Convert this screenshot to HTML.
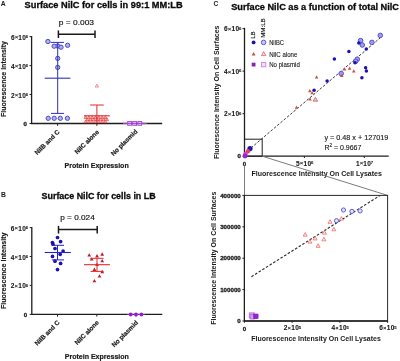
<!DOCTYPE html>
<html><head><meta charset="utf-8"><style>
html,body{margin:0;padding:0;background:#fff;}
svg{display:block;font-family:"Liberation Sans", sans-serif;will-change:transform;}
</style></head><body>
<svg width="400" height="361" viewBox="0 0 400 361" font-family='"Liberation Sans", sans-serif'>
<rect width="400" height="361" fill="#fff"/>
<text x="0.8" y="5.9" font-size="6.8" font-weight="bold" text-anchor="start" fill="#1a1a1a">A</text>
<text x="24.6" y="7.9" font-size="9.3" font-weight="bold" text-anchor="start" fill="#0a0a0a" textLength="158" lengthAdjust="spacingAndGlyphs" stroke="#0a0a0a" stroke-width="0.3">Surface NilC for cells in 99:1 MM:LB</text>
<text x="58.8" y="25.2" font-size="7.6" text-anchor="start" fill="#111" textLength="35.2" lengthAdjust="spacingAndGlyphs" stroke="#111" stroke-width="0.15">p = 0.003</text>
<line x1="58.4" y1="34.2" x2="95.0" y2="34.2" stroke="#1a1a1a" stroke-width="1.6"/>
<line x1="58.4" y1="30.4" x2="58.4" y2="38.0" stroke="#1a1a1a" stroke-width="1.5"/>
<line x1="95.0" y1="30.4" x2="95.0" y2="38.0" stroke="#1a1a1a" stroke-width="1.5"/>
<line x1="31.6" y1="36.0" x2="31.6" y2="123.5" stroke="#1e1e1e" stroke-width="1.3"/>
<line x1="31.0" y1="123.5" x2="162.2" y2="123.5" stroke="#1e1e1e" stroke-width="1.3"/>
<line x1="29.5" y1="36.6" x2="31.6" y2="36.6" stroke="#1e1e1e" stroke-width="1.0"/>
<text x="10.90" y="39.63" font-size="6.5" font-weight="bold" fill="#1a1a1a" stroke="#1a1a1a" stroke-width="0.1" textLength="15.0" lengthAdjust="spacing">6<tspan font-size="5.20" dy="-0.3">×</tspan><tspan dy="0.3">10</tspan></text>
<text x="25.80" y="38.23" font-size="4.3" font-weight="bold" fill="#1a1a1a" stroke="#1a1a1a" stroke-width="0.08">6</text>
<line x1="29.5" y1="65.6" x2="31.6" y2="65.6" stroke="#1e1e1e" stroke-width="1.0"/>
<text x="10.90" y="68.63" font-size="6.5" font-weight="bold" fill="#1a1a1a" stroke="#1a1a1a" stroke-width="0.1" textLength="15.0" lengthAdjust="spacing">4<tspan font-size="5.20" dy="-0.3">×</tspan><tspan dy="0.3">10</tspan></text>
<text x="25.80" y="67.23" font-size="4.3" font-weight="bold" fill="#1a1a1a" stroke="#1a1a1a" stroke-width="0.08">6</text>
<line x1="29.5" y1="94.5" x2="31.6" y2="94.5" stroke="#1e1e1e" stroke-width="1.0"/>
<text x="10.90" y="97.53" font-size="6.5" font-weight="bold" fill="#1a1a1a" stroke="#1a1a1a" stroke-width="0.1" textLength="15.0" lengthAdjust="spacing">2<tspan font-size="5.20" dy="-0.3">×</tspan><tspan dy="0.3">10</tspan></text>
<text x="25.80" y="96.13" font-size="4.3" font-weight="bold" fill="#1a1a1a" stroke="#1a1a1a" stroke-width="0.08">6</text>
<line x1="29.5" y1="123.5" x2="31.6" y2="123.5" stroke="#1e1e1e" stroke-width="1.0"/>
<text x="27.0" y="125.68" font-size="6.1" font-weight="bold" text-anchor="end" fill="#1a1a1a" stroke="#1a1a1a" stroke-width="0.3">0</text>
<line x1="57.6" y1="123.5" x2="57.6" y2="125.8" stroke="#1e1e1e" stroke-width="1.0"/>
<line x1="96.9" y1="123.5" x2="96.9" y2="125.8" stroke="#1e1e1e" stroke-width="1.0"/>
<line x1="136.2" y1="123.5" x2="136.2" y2="125.8" stroke="#1e1e1e" stroke-width="1.0"/>
<text x="6.4" y="79.0" font-size="7.0" font-weight="bold" text-anchor="middle" fill="#1a1a1a" textLength="76" lengthAdjust="spacingAndGlyphs" transform="rotate(-90 6.4 79.0)" stroke="#1a1a1a" stroke-width="0.15">Fluorescence Intensity</text>
<text x="60.1" y="132.5" font-size="6.4" font-weight="bold" text-anchor="end" fill="#1a1a1a" transform="rotate(-45 60.1 132.5)" stroke="#1a1a1a" stroke-width="0.2">NilB and C</text>
<text x="99.4" y="132.5" font-size="6.4" font-weight="bold" text-anchor="end" fill="#1a1a1a" transform="rotate(-45 99.4 132.5)" stroke="#1a1a1a" stroke-width="0.2">NilC alone</text>
<text x="137.9" y="132.0" font-size="6.4" font-weight="bold" text-anchor="end" fill="#1a1a1a" transform="rotate(-45 137.9 132.0)" stroke="#1a1a1a" stroke-width="0.2">No plasmid</text>
<text x="64.5" y="167.8" font-size="7.3" font-weight="bold" text-anchor="start" fill="#1a1a1a" textLength="64.2" lengthAdjust="spacingAndGlyphs" stroke="#1a1a1a" stroke-width="0.2">Protein Expression</text>
<circle cx="57.7" cy="46.0" r="2.15" fill="#b0b0ee" stroke="#4c4cc8" stroke-width="1.0"/>
<circle cx="47.9" cy="41.5" r="2.15" fill="#b0b0ee" stroke="#4c4cc8" stroke-width="1.0"/>
<circle cx="54.1" cy="46.2" r="2.15" fill="#b0b0ee" stroke="#4c4cc8" stroke-width="1.0"/>
<circle cx="61.0" cy="47.2" r="2.15" fill="#b0b0ee" stroke="#4c4cc8" stroke-width="1.0"/>
<circle cx="67.6" cy="45.3" r="2.15" fill="#b0b0ee" stroke="#4c4cc8" stroke-width="1.0"/>
<circle cx="57.7" cy="58.4" r="2.15" fill="#b0b0ee" stroke="#4c4cc8" stroke-width="1.0"/>
<circle cx="57.7" cy="67.4" r="2.15" fill="#b0b0ee" stroke="#4c4cc8" stroke-width="1.0"/>
<circle cx="48.2" cy="118.3" r="2.15" fill="#b0b0ee" stroke="#4c4cc8" stroke-width="1.0"/>
<circle cx="54.2" cy="118.3" r="2.15" fill="#b0b0ee" stroke="#4c4cc8" stroke-width="1.0"/>
<circle cx="60.3" cy="118.3" r="2.15" fill="#b0b0ee" stroke="#4c4cc8" stroke-width="1.0"/>
<circle cx="67.4" cy="118.3" r="2.15" fill="#b0b0ee" stroke="#4c4cc8" stroke-width="1.0"/>
<line x1="57.7" y1="42.4" x2="57.7" y2="113.4" stroke="#3030bc" stroke-width="1.0"/>
<line x1="50.6" y1="42.4" x2="64.0" y2="42.4" stroke="#3030bc" stroke-width="1.0"/>
<line x1="51.0" y1="113.4" x2="64.0" y2="113.4" stroke="#3030bc" stroke-width="1.0"/>
<line x1="44.7" y1="78.2" x2="70.4" y2="78.2" stroke="#3030bc" stroke-width="1.1"/>
<polygon points="96.9,84.06400000000001 95.2,87.12400000000001 98.60000000000001,87.12400000000001" fill="#fde8e8" stroke="#e87070" stroke-width="0.7"/>
<polygon points="85.6,115.726 84.05,118.516 87.14999999999999,118.516" fill="#f7b8b8" stroke="#e03030" stroke-width="0.6"/>
<polygon points="88.89999999999999,115.726 87.35,118.516 90.44999999999999,118.516" fill="#f7b8b8" stroke="#e03030" stroke-width="0.6"/>
<polygon points="92.19999999999999,115.726 90.64999999999999,118.516 93.74999999999999,118.516" fill="#f7b8b8" stroke="#e03030" stroke-width="0.6"/>
<polygon points="95.5,115.726 93.95,118.516 97.05,118.516" fill="#f7b8b8" stroke="#e03030" stroke-width="0.6"/>
<polygon points="98.8,115.726 97.25,118.516 100.35,118.516" fill="#f7b8b8" stroke="#e03030" stroke-width="0.6"/>
<polygon points="102.1,115.726 100.55,118.516 103.64999999999999,118.516" fill="#f7b8b8" stroke="#e03030" stroke-width="0.6"/>
<polygon points="105.39999999999999,115.726 103.85,118.516 106.94999999999999,118.516" fill="#f7b8b8" stroke="#e03030" stroke-width="0.6"/>
<polygon points="87.19999999999999,117.826 85.64999999999999,120.616 88.74999999999999,120.616" fill="#f7b8b8" stroke="#e03030" stroke-width="0.6"/>
<polygon points="90.49999999999999,117.826 88.94999999999999,120.616 92.04999999999998,120.616" fill="#f7b8b8" stroke="#e03030" stroke-width="0.6"/>
<polygon points="93.79999999999998,117.826 92.24999999999999,120.616 95.34999999999998,120.616" fill="#f7b8b8" stroke="#e03030" stroke-width="0.6"/>
<polygon points="97.1,117.826 95.55,120.616 98.64999999999999,120.616" fill="#f7b8b8" stroke="#e03030" stroke-width="0.6"/>
<polygon points="100.39999999999999,117.826 98.85,120.616 101.94999999999999,120.616" fill="#f7b8b8" stroke="#e03030" stroke-width="0.6"/>
<polygon points="103.69999999999999,117.826 102.14999999999999,120.616 105.24999999999999,120.616" fill="#f7b8b8" stroke="#e03030" stroke-width="0.6"/>
<polygon points="106.99999999999999,117.826 105.44999999999999,120.616 108.54999999999998,120.616" fill="#f7b8b8" stroke="#e03030" stroke-width="0.6"/>
<polygon points="85.6,119.92599999999999 84.05,122.716 87.14999999999999,122.716" fill="#f7b8b8" stroke="#e03030" stroke-width="0.6"/>
<polygon points="88.89999999999999,119.92599999999999 87.35,122.716 90.44999999999999,122.716" fill="#f7b8b8" stroke="#e03030" stroke-width="0.6"/>
<polygon points="92.19999999999999,119.92599999999999 90.64999999999999,122.716 93.74999999999999,122.716" fill="#f7b8b8" stroke="#e03030" stroke-width="0.6"/>
<polygon points="95.5,119.92599999999999 93.95,122.716 97.05,122.716" fill="#f7b8b8" stroke="#e03030" stroke-width="0.6"/>
<polygon points="98.8,119.92599999999999 97.25,122.716 100.35,122.716" fill="#f7b8b8" stroke="#e03030" stroke-width="0.6"/>
<polygon points="102.1,119.92599999999999 100.55,122.716 103.64999999999999,122.716" fill="#f7b8b8" stroke="#e03030" stroke-width="0.6"/>
<polygon points="105.39999999999999,119.92599999999999 103.85,122.716 106.94999999999999,122.716" fill="#f7b8b8" stroke="#e03030" stroke-width="0.6"/>
<line x1="96.9" y1="105.0" x2="96.9" y2="122.5" stroke="#e42828" stroke-width="1.0"/>
<line x1="90.2" y1="105.0" x2="103.7" y2="105.0" stroke="#e42828" stroke-width="1.0"/>
<line x1="84.0" y1="115.8" x2="109.8" y2="115.8" stroke="#e42828" stroke-width="1.1"/>
<rect x="127.69999999999999" y="121.5" width="3.8" height="3.8" fill="#e2c4f2" stroke="#a444d6" stroke-width="0.9"/>
<rect x="132.7" y="121.5" width="3.8" height="3.8" fill="#e2c4f2" stroke="#a444d6" stroke-width="0.9"/>
<rect x="137.9" y="121.5" width="3.8" height="3.8" fill="#e2c4f2" stroke="#a444d6" stroke-width="0.9"/>
<line x1="123.0" y1="123.4" x2="147.0" y2="123.4" stroke="#a444d6" stroke-width="1.0"/>
<text x="0.9" y="196.9" font-size="6.8" font-weight="bold" text-anchor="start" fill="#1a1a1a">B</text>
<text x="41.6" y="199.4" font-size="9.3" font-weight="bold" text-anchor="start" fill="#0a0a0a" textLength="114" lengthAdjust="spacingAndGlyphs" stroke="#0a0a0a" stroke-width="0.3">Surface NilC for cells in LB</text>
<text x="60.2" y="220.4" font-size="7.6" text-anchor="start" fill="#111" textLength="34.6" lengthAdjust="spacingAndGlyphs" stroke="#111" stroke-width="0.15">p = 0.024</text>
<line x1="58.5" y1="229.5" x2="97.2" y2="229.5" stroke="#1a1a1a" stroke-width="1.6"/>
<line x1="58.5" y1="225.9" x2="58.5" y2="233.6" stroke="#1a1a1a" stroke-width="1.5"/>
<line x1="97.2" y1="225.9" x2="97.2" y2="233.6" stroke="#1a1a1a" stroke-width="1.5"/>
<line x1="31.8" y1="227.0" x2="31.8" y2="314.4" stroke="#1e1e1e" stroke-width="1.3"/>
<line x1="31.2" y1="314.4" x2="162.3" y2="314.4" stroke="#1e1e1e" stroke-width="1.3"/>
<line x1="29.7" y1="227.6" x2="31.8" y2="227.6" stroke="#1e1e1e" stroke-width="1.0"/>
<text x="10.80" y="230.63" font-size="6.5" font-weight="bold" fill="#1a1a1a" stroke="#1a1a1a" stroke-width="0.1" textLength="15.0" lengthAdjust="spacing">6<tspan font-size="5.20" dy="-0.3">×</tspan><tspan dy="0.3">10</tspan></text>
<text x="25.70" y="229.23" font-size="4.3" font-weight="bold" fill="#1a1a1a" stroke="#1a1a1a" stroke-width="0.08">6</text>
<line x1="29.7" y1="256.5" x2="31.8" y2="256.5" stroke="#1e1e1e" stroke-width="1.0"/>
<text x="10.80" y="259.53" font-size="6.5" font-weight="bold" fill="#1a1a1a" stroke="#1a1a1a" stroke-width="0.1" textLength="15.0" lengthAdjust="spacing">4<tspan font-size="5.20" dy="-0.3">×</tspan><tspan dy="0.3">10</tspan></text>
<text x="25.70" y="258.13" font-size="4.3" font-weight="bold" fill="#1a1a1a" stroke="#1a1a1a" stroke-width="0.08">6</text>
<line x1="29.7" y1="285.4" x2="31.8" y2="285.4" stroke="#1e1e1e" stroke-width="1.0"/>
<text x="10.80" y="288.43" font-size="6.5" font-weight="bold" fill="#1a1a1a" stroke="#1a1a1a" stroke-width="0.1" textLength="15.0" lengthAdjust="spacing">2<tspan font-size="5.20" dy="-0.3">×</tspan><tspan dy="0.3">10</tspan></text>
<text x="25.70" y="287.03" font-size="4.3" font-weight="bold" fill="#1a1a1a" stroke="#1a1a1a" stroke-width="0.08">6</text>
<line x1="29.7" y1="314.4" x2="31.8" y2="314.4" stroke="#1e1e1e" stroke-width="1.0"/>
<text x="27.2" y="316.58" font-size="6.1" font-weight="bold" text-anchor="end" fill="#1a1a1a" stroke="#1a1a1a" stroke-width="0.3">0</text>
<line x1="57.5" y1="314.4" x2="57.5" y2="316.6" stroke="#1e1e1e" stroke-width="1.0"/>
<line x1="96.8" y1="314.4" x2="96.8" y2="316.6" stroke="#1e1e1e" stroke-width="1.0"/>
<line x1="136.0" y1="314.4" x2="136.0" y2="316.6" stroke="#1e1e1e" stroke-width="1.0"/>
<text x="6.4" y="270.8" font-size="7.0" font-weight="bold" text-anchor="middle" fill="#1a1a1a" textLength="76.5" lengthAdjust="spacingAndGlyphs" transform="rotate(-90 6.4 270.8)" stroke="#1a1a1a" stroke-width="0.15">Fluorescence Intensity</text>
<text x="60.0" y="323.1" font-size="6.4" font-weight="bold" text-anchor="end" fill="#1a1a1a" transform="rotate(-45 60.0 323.1)" stroke="#1a1a1a" stroke-width="0.2">NilB and C</text>
<text x="99.3" y="323.1" font-size="6.4" font-weight="bold" text-anchor="end" fill="#1a1a1a" transform="rotate(-45 99.3 323.1)" stroke="#1a1a1a" stroke-width="0.2">NilC alone</text>
<text x="138.5" y="323.1" font-size="6.4" font-weight="bold" text-anchor="end" fill="#1a1a1a" transform="rotate(-45 138.5 323.1)" stroke="#1a1a1a" stroke-width="0.2">No plasmid</text>
<text x="64.7" y="358.7" font-size="7.3" font-weight="bold" text-anchor="start" fill="#1a1a1a" textLength="64.2" lengthAdjust="spacingAndGlyphs" stroke="#1a1a1a" stroke-width="0.2">Protein Expression</text>
<circle cx="57.5" cy="237.5" r="1.85" fill="#1c12b4" stroke="none" stroke-width="0.8"/>
<circle cx="60.6" cy="241.6" r="1.85" fill="#1c12b4" stroke="none" stroke-width="0.8"/>
<circle cx="52.4" cy="242.5" r="1.85" fill="#1c12b4" stroke="none" stroke-width="0.8"/>
<circle cx="53.0" cy="244.2" r="1.85" fill="#1c12b4" stroke="none" stroke-width="0.8"/>
<circle cx="55.0" cy="248.5" r="1.85" fill="#1c12b4" stroke="none" stroke-width="0.8"/>
<circle cx="63.1" cy="251.0" r="1.85" fill="#1c12b4" stroke="none" stroke-width="0.8"/>
<circle cx="60.2" cy="254.3" r="1.85" fill="#1c12b4" stroke="none" stroke-width="0.8"/>
<circle cx="52.5" cy="256.4" r="1.85" fill="#1c12b4" stroke="none" stroke-width="0.8"/>
<circle cx="55.0" cy="261.2" r="1.85" fill="#1c12b4" stroke="none" stroke-width="0.8"/>
<circle cx="60.6" cy="263.4" r="1.85" fill="#1c12b4" stroke="none" stroke-width="0.8"/>
<circle cx="57.5" cy="269.6" r="1.85" fill="#1c12b4" stroke="none" stroke-width="0.8"/>
<line x1="57.5" y1="245.3" x2="57.5" y2="259.9" stroke="#2424c8" stroke-width="1.0"/>
<line x1="51.9" y1="245.3" x2="64.0" y2="245.3" stroke="#2424c8" stroke-width="1.0"/>
<line x1="51.9" y1="259.9" x2="64.0" y2="259.9" stroke="#2424c8" stroke-width="1.0"/>
<line x1="44.7" y1="252.5" x2="70.8" y2="252.5" stroke="#2424c8" stroke-width="1.1"/>
<polygon points="89.2,253.148 87.3,256.568 91.10000000000001,256.568" fill="#bc1c2a" stroke="none" stroke-width="0.8"/>
<polygon points="97.0,254.04800000000003 95.1,257.468 98.9,257.468" fill="#bc1c2a" stroke="none" stroke-width="0.8"/>
<polygon points="102.2,252.348 100.3,255.768 104.10000000000001,255.768" fill="#bc1c2a" stroke="none" stroke-width="0.8"/>
<polygon points="91.7,257.14799999999997 89.8,260.568 93.60000000000001,260.568" fill="#bc1c2a" stroke="none" stroke-width="0.8"/>
<polygon points="102.2,258.948 100.3,262.368 104.10000000000001,262.368" fill="#bc1c2a" stroke="none" stroke-width="0.8"/>
<polygon points="97.0,262.64799999999997 95.1,266.068 98.9,266.068" fill="#bc1c2a" stroke="none" stroke-width="0.8"/>
<polygon points="94.4,267.548 92.5,270.968 96.30000000000001,270.968" fill="#bc1c2a" stroke="none" stroke-width="0.8"/>
<polygon points="102.2,269.748 100.3,273.168 104.10000000000001,273.168" fill="#bc1c2a" stroke="none" stroke-width="0.8"/>
<polygon points="99.5,274.14799999999997 97.6,277.568 101.4,277.568" fill="#bc1c2a" stroke="none" stroke-width="0.8"/>
<polygon points="94.4,278.948 92.5,282.368 96.30000000000001,282.368" fill="#bc1c2a" stroke="none" stroke-width="0.8"/>
<line x1="97.0" y1="258.3" x2="97.0" y2="271.4" stroke="#e42828" stroke-width="1.0"/>
<line x1="90.3" y1="258.3" x2="103.6" y2="258.3" stroke="#e42828" stroke-width="1.0"/>
<line x1="90.6" y1="271.4" x2="103.6" y2="271.4" stroke="#e42828" stroke-width="1.0"/>
<line x1="84.0" y1="264.7" x2="109.9" y2="264.7" stroke="#e42828" stroke-width="1.1"/>
<circle cx="130.7" cy="314.5" r="1.9" fill="#9020c8" stroke="none" stroke-width="0.8"/>
<circle cx="136.0" cy="314.5" r="1.9" fill="#9020c8" stroke="none" stroke-width="0.8"/>
<circle cx="141.4" cy="314.5" r="1.9" fill="#9020c8" stroke="none" stroke-width="0.8"/>
<line x1="127.0" y1="314.5" x2="145.0" y2="314.5" stroke="#9020c8" stroke-width="1.0"/>
<text x="213.5" y="6.0" font-size="6.6" font-weight="bold" text-anchor="start" fill="#1a1a1a">C</text>
<text x="231.2" y="9.7" font-size="9.3" font-weight="bold" text-anchor="start" fill="#0a0a0a" textLength="167.8" lengthAdjust="spacingAndGlyphs" stroke="#0a0a0a" stroke-width="0.3">Surface NilC as a function of total NilC</text>
<line x1="244.5" y1="27.8" x2="244.5" y2="156.2" stroke="#1e1e1e" stroke-width="1.3"/>
<line x1="244.0" y1="156.2" x2="388.7" y2="156.2" stroke="#1e1e1e" stroke-width="1.3"/>
<line x1="242.5" y1="28.60000000000001" x2="244.5" y2="28.60000000000001" stroke="#1e1e1e" stroke-width="1.0"/>
<text x="224.00" y="31.33" font-size="6.5" font-weight="bold" fill="#1a1a1a" stroke="#1a1a1a" stroke-width="0.1" textLength="15.0" lengthAdjust="spacing">6<tspan font-size="5.20" dy="-0.3">×</tspan><tspan dy="0.3">10</tspan></text>
<text x="238.90" y="29.93" font-size="4.3" font-weight="bold" fill="#1a1a1a" stroke="#1a1a1a" stroke-width="0.08">6</text>
<line x1="242.5" y1="71.13333333333333" x2="244.5" y2="71.13333333333333" stroke="#1e1e1e" stroke-width="1.0"/>
<text x="224.00" y="73.86" font-size="6.5" font-weight="bold" fill="#1a1a1a" stroke="#1a1a1a" stroke-width="0.1" textLength="15.0" lengthAdjust="spacing">4<tspan font-size="5.20" dy="-0.3">×</tspan><tspan dy="0.3">10</tspan></text>
<text x="238.90" y="72.46" font-size="4.3" font-weight="bold" fill="#1a1a1a" stroke="#1a1a1a" stroke-width="0.08">6</text>
<line x1="242.5" y1="113.66666666666666" x2="244.5" y2="113.66666666666666" stroke="#1e1e1e" stroke-width="1.0"/>
<text x="224.00" y="116.39" font-size="6.5" font-weight="bold" fill="#1a1a1a" stroke="#1a1a1a" stroke-width="0.1" textLength="15.0" lengthAdjust="spacing">2<tspan font-size="5.20" dy="-0.3">×</tspan><tspan dy="0.3">10</tspan></text>
<text x="238.90" y="114.99" font-size="4.3" font-weight="bold" fill="#1a1a1a" stroke="#1a1a1a" stroke-width="0.08">6</text>
<line x1="242.5" y1="156.2" x2="244.5" y2="156.2" stroke="#1e1e1e" stroke-width="1.0"/>
<text x="241.0" y="158.38" font-size="6.1" font-weight="bold" text-anchor="end" fill="#1a1a1a" stroke="#1a1a1a" stroke-width="0.3">0</text>
<line x1="244.5" y1="156.2" x2="244.5" y2="158.0" stroke="#1e1e1e" stroke-width="1.0"/>
<text x="244.5" y="165.78" font-size="6.1" font-weight="bold" text-anchor="middle" fill="#1a1a1a" stroke="#1a1a1a" stroke-width="0.3">0</text>
<line x1="304.4" y1="156.2" x2="304.4" y2="158.0" stroke="#1e1e1e" stroke-width="1.0"/>
<text x="296.05" y="165.63" font-size="6.5" font-weight="bold" fill="#1a1a1a" stroke="#1a1a1a" stroke-width="0.1" textLength="15.0" lengthAdjust="spacing">5<tspan font-size="5.20" dy="-0.3">×</tspan><tspan dy="0.3">10</tspan></text>
<text x="310.95" y="164.23" font-size="4.3" font-weight="bold" fill="#1a1a1a" stroke="#1a1a1a" stroke-width="0.08">6</text>
<line x1="364.3" y1="156.2" x2="364.3" y2="158.0" stroke="#1e1e1e" stroke-width="1.0"/>
<text x="355.95" y="165.63" font-size="6.5" font-weight="bold" fill="#1a1a1a" stroke="#1a1a1a" stroke-width="0.1" textLength="15.0" lengthAdjust="spacing">1<tspan font-size="5.20" dy="-0.3">×</tspan><tspan dy="0.3">10</tspan></text>
<text x="370.85" y="164.23" font-size="4.3" font-weight="bold" fill="#1a1a1a" stroke="#1a1a1a" stroke-width="0.08">7</text>
<text x="218.9" y="92.3" font-size="7.0" font-weight="bold" text-anchor="middle" fill="#1a1a1a" textLength="133.5" lengthAdjust="spacingAndGlyphs" transform="rotate(-90 218.9 92.3)">Fluorescence Intensity On Cell Surfaces</text>
<text x="251.5" y="176.2" font-size="7.0" font-weight="bold" text-anchor="start" fill="#1a1a1a" textLength="130.4" lengthAdjust="spacingAndGlyphs">Fluorescence Intensity On Cell Lysates</text>
<text x="255.1" y="38.4" font-size="5.6" text-anchor="start" fill="#222" textLength="6.8" lengthAdjust="spacingAndGlyphs" transform="rotate(-90 255.1 38.4)" stroke="#222" stroke-width="0.2">LB</text>
<text x="265.0" y="37.8" font-size="5.6" text-anchor="start" fill="#222" textLength="19.5" lengthAdjust="spacingAndGlyphs" transform="rotate(-90 265.0 37.8)" stroke="#222" stroke-width="0.2">MM:LB</text>
<circle cx="253.6" cy="42.4" r="1.95" fill="#1c12b4" stroke="none" stroke-width="0.8"/>
<circle cx="263.6" cy="42.4" r="2.3" fill="#c4c4f2" stroke="#5a5ad8" stroke-width="1.0"/>
<text x="269.2" y="44.9" font-size="7.0" text-anchor="start" fill="#1c1c1c" textLength="14.8" lengthAdjust="spacingAndGlyphs" stroke="#1c1c1c" stroke-width="0.12">NilBC</text>
<polygon points="253.6,51.894 251.65,55.403999999999996 255.54999999999998,55.403999999999996" fill="#c84848" stroke="none" stroke-width="0.8"/>
<polygon points="263.6,51.624 261.40000000000003,55.584 265.8,55.584" fill="#fde0e0" stroke="#e07070" stroke-width="0.9"/>
<text x="269.2" y="56.7" font-size="7.0" text-anchor="start" fill="#1c1c1c" textLength="28.2" lengthAdjust="spacingAndGlyphs" stroke="#1c1c1c" stroke-width="0.12">NilC alone</text>
<rect x="251.7" y="62.699999999999996" width="3.8" height="3.8" fill="#8a20c0" stroke="none" stroke-width="0.8"/>
<rect x="261.40000000000003" y="62.39999999999999" width="4.4" height="4.4" fill="#f4dcf8" stroke="#d080e8" stroke-width="0.9"/>
<text x="269.2" y="67.1" font-size="7.0" text-anchor="start" fill="#1c1c1c" textLength="30.6" lengthAdjust="spacingAndGlyphs" stroke="#1c1c1c" stroke-width="0.12">No plasmid</text>
<line x1="244.5" y1="153.50" x2="382" y2="36.34" stroke="#3a3a3a" stroke-width="1.0" stroke-dasharray="2.6 1.7"/>
<text x="324.4" y="139.9" font-size="7.0" text-anchor="start" fill="#151515" textLength="63.9" lengthAdjust="spacingAndGlyphs" stroke="#151515" stroke-width="0.12">y = 0.48 x + 127019</text>
<text x="324.4" y="149.5" font-size="7" fill="#151515" stroke="#151515" stroke-width="0.12">R<tspan font-size="4.6" dy="-2.6">2</tspan><tspan dy="2.6"> = 0.9667</tspan></text>
<rect x="244.5" y="139.2" width="17.69999999999999" height="17.0" fill="none" stroke="#1e1e1e" stroke-width="1"/>
<circle cx="380.3" cy="35.4" r="2.3" fill="#9c9cea" stroke="#4a4ad0" stroke-width="0.9"/>
<circle cx="371.9" cy="42.4" r="2.3" fill="#9c9cea" stroke="#4a4ad0" stroke-width="0.9"/>
<circle cx="360.6" cy="40.6" r="2.3" fill="#9c9cea" stroke="#4a4ad0" stroke-width="0.9"/>
<circle cx="362.3" cy="45.0" r="2.3" fill="#9c9cea" stroke="#4a4ad0" stroke-width="0.9"/>
<circle cx="357.3" cy="59.2" r="2.3" fill="#9c9cea" stroke="#4a4ad0" stroke-width="0.9"/>
<circle cx="355.6" cy="61.3" r="2.3" fill="#9c9cea" stroke="#4a4ad0" stroke-width="0.9"/>
<circle cx="341.2" cy="73.6" r="2.3" fill="#9c9cea" stroke="#4a4ad0" stroke-width="0.9"/>
<circle cx="358.8" cy="43.1" r="1.75" fill="#1c12b4" stroke="none" stroke-width="0.8"/>
<circle cx="366.3" cy="49.0" r="1.75" fill="#1c12b4" stroke="none" stroke-width="0.8"/>
<circle cx="348.9" cy="51.4" r="1.75" fill="#1c12b4" stroke="none" stroke-width="0.8"/>
<circle cx="334.4" cy="58.9" r="1.75" fill="#1c12b4" stroke="none" stroke-width="0.8"/>
<circle cx="355.0" cy="62.8" r="1.75" fill="#1c12b4" stroke="none" stroke-width="0.8"/>
<circle cx="365.6" cy="67.8" r="1.75" fill="#1c12b4" stroke="none" stroke-width="0.8"/>
<circle cx="366.4" cy="70.9" r="1.75" fill="#1c12b4" stroke="none" stroke-width="0.8"/>
<circle cx="361.9" cy="77.7" r="1.75" fill="#1c12b4" stroke="none" stroke-width="0.8"/>
<circle cx="327.1" cy="81.0" r="1.75" fill="#1c12b4" stroke="none" stroke-width="0.8"/>
<circle cx="314.1" cy="90.2" r="1.75" fill="#1c12b4" stroke="none" stroke-width="0.8"/>
<polygon points="344.6,67.256 342.8,70.49600000000001 346.40000000000003,70.49600000000001" fill="#c85248" stroke="none" stroke-width="0.8"/>
<polygon points="349.6,66.556 347.8,69.796 351.40000000000003,69.796" fill="#c85248" stroke="none" stroke-width="0.8"/>
<polygon points="353.8,69.256 352.0,72.49600000000001 355.6,72.49600000000001" fill="#c85248" stroke="none" stroke-width="0.8"/>
<polygon points="341.8,73.65599999999999 340.0,76.896 343.6,76.896" fill="#c85248" stroke="none" stroke-width="0.8"/>
<polygon points="316.6,75.356 314.8,78.596 318.40000000000003,78.596" fill="#c85248" stroke="none" stroke-width="0.8"/>
<polygon points="309.8,88.956 308.0,92.19600000000001 311.6,92.19600000000001" fill="#c85248" stroke="none" stroke-width="0.8"/>
<polygon points="312.1,91.056 310.3,94.296 313.90000000000003,94.296" fill="#c85248" stroke="none" stroke-width="0.8"/>
<polygon points="310.0,97.15599999999999 308.2,100.396 311.8,100.396" fill="#c85248" stroke="none" stroke-width="0.8"/>
<polygon points="296.5,105.556 294.7,108.796 298.3,108.796" fill="#c85248" stroke="none" stroke-width="0.8"/>
<polygon points="315.4,97.22399999999999 313.2,101.184 317.59999999999997,101.184" fill="#f4c4c4" stroke="#d46a6a" stroke-width="0.9"/>
<circle cx="250.0" cy="148.6" r="2.6" fill="#1c12b4" stroke="none" stroke-width="0.8"/>
<circle cx="248.0" cy="151.2" r="2.2" fill="#e04060" stroke="none" stroke-width="0.8"/>
<circle cx="245.6" cy="154.0" r="2.2" fill="#d040d8" stroke="none" stroke-width="0.8"/>
<circle cx="245.0" cy="156.0" r="2.4" fill="#a020d8" stroke="none" stroke-width="0.8"/>
<line x1="244.5" y1="165.5" x2="244.5" y2="195.4" stroke="#7c7c7c" stroke-width="1.0"/>
<line x1="262.2" y1="156.2" x2="387.6" y2="195.4" stroke="#7c7c7c" stroke-width="1.0"/>
<rect x="244.4" y="195.4" width="143.20000000000002" height="125.6" fill="none" stroke="#2a2a2a" stroke-width="1.0"/>
<line x1="244.4" y1="321.0" x2="387.6" y2="321.0" stroke="#1e1e1e" stroke-width="1.3"/>
<line x1="244.4" y1="195.4" x2="244.4" y2="321.0" stroke="#1e1e1e" stroke-width="1.2"/>
<line x1="242.4" y1="195.4" x2="244.4" y2="195.4" stroke="#1e1e1e" stroke-width="1.0"/>
<text x="240.8" y="197.62" font-size="6.2" font-weight="bold" text-anchor="end" fill="#1a1a1a" stroke="#1a1a1a" stroke-width="0.3">400000</text>
<line x1="242.4" y1="226.8" x2="244.4" y2="226.8" stroke="#1e1e1e" stroke-width="1.0"/>
<text x="240.8" y="229.02" font-size="6.2" font-weight="bold" text-anchor="end" fill="#1a1a1a" stroke="#1a1a1a" stroke-width="0.3">300000</text>
<line x1="242.4" y1="258.2" x2="244.4" y2="258.2" stroke="#1e1e1e" stroke-width="1.0"/>
<text x="240.8" y="260.42" font-size="6.2" font-weight="bold" text-anchor="end" fill="#1a1a1a" stroke="#1a1a1a" stroke-width="0.3">200000</text>
<line x1="242.4" y1="289.6" x2="244.4" y2="289.6" stroke="#1e1e1e" stroke-width="1.0"/>
<text x="240.8" y="291.82" font-size="6.2" font-weight="bold" text-anchor="end" fill="#1a1a1a" stroke="#1a1a1a" stroke-width="0.3">100000</text>
<line x1="242.4" y1="321.0" x2="244.4" y2="321.0" stroke="#1e1e1e" stroke-width="1.0"/>
<text x="240.8" y="323.22" font-size="6.2" font-weight="bold" text-anchor="end" fill="#1a1a1a" stroke="#1a1a1a" stroke-width="0.3">0</text>
<line x1="244.4" y1="321.0" x2="244.4" y2="322.8" stroke="#1e1e1e" stroke-width="1.0"/>
<text x="244.4" y="330.88" font-size="6.1" font-weight="bold" text-anchor="middle" fill="#1a1a1a" stroke="#1a1a1a" stroke-width="0.3">0</text>
<line x1="292.1333333333333" y1="321.0" x2="292.1333333333333" y2="322.8" stroke="#1e1e1e" stroke-width="1.0"/>
<text x="283.78" y="330.43" font-size="6.5" font-weight="bold" fill="#1a1a1a" stroke="#1a1a1a" stroke-width="0.1" textLength="15.0" lengthAdjust="spacing">2<tspan font-size="5.20" dy="-0.3">×</tspan><tspan dy="0.3">10</tspan></text>
<text x="298.68" y="329.03" font-size="4.3" font-weight="bold" fill="#1a1a1a" stroke="#1a1a1a" stroke-width="0.08">5</text>
<line x1="339.8666666666667" y1="321.0" x2="339.8666666666667" y2="322.8" stroke="#1e1e1e" stroke-width="1.0"/>
<text x="331.52" y="330.43" font-size="6.5" font-weight="bold" fill="#1a1a1a" stroke="#1a1a1a" stroke-width="0.1" textLength="15.0" lengthAdjust="spacing">4<tspan font-size="5.20" dy="-0.3">×</tspan><tspan dy="0.3">10</tspan></text>
<text x="346.42" y="329.03" font-size="4.3" font-weight="bold" fill="#1a1a1a" stroke="#1a1a1a" stroke-width="0.08">5</text>
<line x1="387.6" y1="321.0" x2="387.6" y2="322.8" stroke="#1e1e1e" stroke-width="1.0"/>
<text x="379.25" y="330.43" font-size="6.5" font-weight="bold" fill="#1a1a1a" stroke="#1a1a1a" stroke-width="0.1" textLength="15.0" lengthAdjust="spacing">6<tspan font-size="5.20" dy="-0.3">×</tspan><tspan dy="0.3">10</tspan></text>
<text x="394.15" y="329.03" font-size="4.3" font-weight="bold" fill="#1a1a1a" stroke="#1a1a1a" stroke-width="0.08">5</text>
<text x="216.3" y="258.2" font-size="7.0" font-weight="bold" text-anchor="middle" fill="#1a1a1a" textLength="133" lengthAdjust="spacingAndGlyphs" transform="rotate(-90 216.3 258.2)">Fluorescence Intensity On Cell Surfaces</text>
<text x="251.2" y="340.7" font-size="7.0" font-weight="bold" text-anchor="start" fill="#1a1a1a" textLength="129.6" lengthAdjust="spacingAndGlyphs">Fluorescence Intensity On Cell Lysates</text>
<line x1="251.4" y1="276.70" x2="380.1" y2="195.42" stroke="#2e2e2e" stroke-width="1.15" stroke-dasharray="2.6 1.7"/>
<circle cx="343.5" cy="210.0" r="2.1" fill="#e0e0fa" stroke="#5a5ad8" stroke-width="0.95"/>
<circle cx="351.9" cy="211.4" r="2.1" fill="#e0e0fa" stroke="#5a5ad8" stroke-width="0.95"/>
<circle cx="360.1" cy="210.9" r="2.1" fill="#e0e0fa" stroke="#5a5ad8" stroke-width="0.95"/>
<circle cx="336.5" cy="220.7" r="2.1" fill="#e0e0fa" stroke="#5a5ad8" stroke-width="0.95"/>
<polygon points="330.0,219.74 328.0,223.34 332.0,223.34" fill="#fde6e6" stroke="#ee7070" stroke-width="0.8"/>
<polygon points="341.4,216.54 339.4,220.14 343.4,220.14" fill="#fde6e6" stroke="#ee7070" stroke-width="0.8"/>
<polygon points="333.9,227.24 331.9,230.84 335.9,230.84" fill="#fde6e6" stroke="#ee7070" stroke-width="0.8"/>
<polygon points="324.4,230.54 322.4,234.14 326.4,234.14" fill="#fde6e6" stroke="#ee7070" stroke-width="0.8"/>
<polygon points="305.2,232.54 303.2,236.14 307.2,236.14" fill="#fde6e6" stroke="#ee7070" stroke-width="0.8"/>
<polygon points="315.1,236.34 313.1,239.94 317.1,239.94" fill="#fde6e6" stroke="#ee7070" stroke-width="0.8"/>
<polygon points="323.9,237.24 321.9,240.84 325.9,240.84" fill="#fde6e6" stroke="#ee7070" stroke-width="0.8"/>
<polygon points="309.9,239.54 307.9,243.14 311.9,243.14" fill="#fde6e6" stroke="#ee7070" stroke-width="0.8"/>
<polygon points="318.1,243.74 316.1,247.34 320.1,247.34" fill="#fde6e6" stroke="#ee7070" stroke-width="0.8"/>
<rect x="249.3" y="312.9" width="5.0" height="5.0" fill="#e4b4f2" stroke="#b868dc" stroke-width="0.9"/>
<rect x="250.20000000000002" y="314.6" width="4.4" height="4.4" fill="#d8a0ee" stroke="#b060d8" stroke-width="0.8"/>
<rect x="253.5" y="314.0" width="4.6" height="4.6" fill="#9424cc" stroke="#8a1cc4" stroke-width="0.6"/>
</svg></body></html>
